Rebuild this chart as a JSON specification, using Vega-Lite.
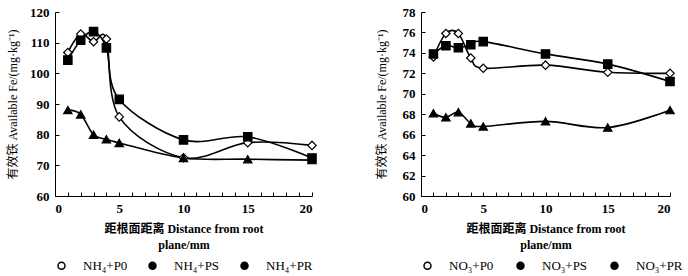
{
  "$schema": "https://vega.github.io/schema/vega-lite/v6.json",
  "padding": {"left": 6, "top": 6, "right": 4, "bottom": 0},
  "background": "white",
  "datasets": {
    "nh4": [
      {"series": "NH₄+P0", "x": 1, "y": 106.8}, {"series": "NH₄+P0", "x": 2, "y": 112.8}, {"series": "NH₄+P0", "x": 3, "y": 110.3}, {"series": "NH₄+P0", "x": 4, "y": 111.2}, {"series": "NH₄+P0", "x": 5, "y": 85.8}, {"series": "NH₄+P0", "x": 10, "y": 72.5}, {"series": "NH₄+P0", "x": 15, "y": 77.4}, {"series": "NH₄+P0", "x": 20, "y": 76.5},
      {"series": "NH₄+PS", "x": 1, "y": 104.3}, {"series": "NH₄+PS", "x": 2, "y": 110.8}, {"series": "NH₄+PS", "x": 3, "y": 113.6}, {"series": "NH₄+PS", "x": 4, "y": 108.3}, {"series": "NH₄+PS", "x": 5, "y": 91.5}, {"series": "NH₄+PS", "x": 10, "y": 78.3}, {"series": "NH₄+PS", "x": 15, "y": 79.3}, {"series": "NH₄+PS", "x": 20, "y": 72.4},
      {"series": "NH₄+PR", "x": 1, "y": 88.0}, {"series": "NH₄+PR", "x": 2, "y": 86.6}, {"series": "NH₄+PR", "x": 3, "y": 80.0}, {"series": "NH₄+PR", "x": 4, "y": 78.5}, {"series": "NH₄+PR", "x": 5, "y": 77.3}, {"series": "NH₄+PR", "x": 10, "y": 72.4}, {"series": "NH₄+PR", "x": 15, "y": 72.0}, {"series": "NH₄+PR", "x": 20, "y": 71.7}
    ],
    "no3": [
      {"series": "NO₃+P0", "x": 1, "y": 73.6}, {"series": "NO₃+P0", "x": 2, "y": 75.9}, {"series": "NO₃+P0", "x": 3, "y": 75.9}, {"series": "NO₃+P0", "x": 4, "y": 73.5}, {"series": "NO₃+P0", "x": 5, "y": 72.5}, {"series": "NO₃+P0", "x": 10, "y": 72.8}, {"series": "NO₃+P0", "x": 15, "y": 72.1}, {"series": "NO₃+P0", "x": 20, "y": 72.0},
      {"series": "NO₃+PS", "x": 1, "y": 73.9}, {"series": "NO₃+PS", "x": 2, "y": 74.7}, {"series": "NO₃+PS", "x": 3, "y": 74.5}, {"series": "NO₃+PS", "x": 4, "y": 74.8}, {"series": "NO₃+PS", "x": 5, "y": 75.1}, {"series": "NO₃+PS", "x": 10, "y": 73.9}, {"series": "NO₃+PS", "x": 15, "y": 72.9}, {"series": "NO₃+PS", "x": 20, "y": 71.2},
      {"series": "NO₃+PR", "x": 1, "y": 68.1}, {"series": "NO₃+PR", "x": 2, "y": 67.7}, {"series": "NO₃+PR", "x": 3, "y": 68.2}, {"series": "NO₃+PR", "x": 4, "y": 67.1}, {"series": "NO₃+PR", "x": 5, "y": 66.8}, {"series": "NO₃+PR", "x": 10, "y": 67.3}, {"series": "NO₃+PR", "x": 15, "y": 66.7}, {"series": "NO₃+PR", "x": 20, "y": 68.4}
    ]
  },
  "config": {
    "view": {"stroke": null},
    "font": "Liberation Serif, Noto Sans CJK SC",
    "axis": {
      "grid": false,
      "domainColor": "black",
      "tickColor": "black",
      "domainWidth": 1,
      "tickWidth": 1,
      "tickSize": -4,
      "labelFont": "Liberation Serif",
      "labelFontSize": 13,
      "labelFontWeight": "bold",
      "labelColor": "black",
      "labelPadding": 10,
      "titleFont": "Liberation Serif, Noto Sans CJK SC",
      "titleColor": "black",
      "titleFontWeight": "normal"
    },
    "legend": {
      "orient": "bottom",
      "direction": "horizontal",
      "title": null,
      "labelFont": "Liberation Serif",
      "labelFontSize": 13,
      "labelColor": "black",
      "symbolSize": 49,
      "symbolStrokeWidth": 1.5,
      "symbolOpacity": 1,
      "labelOffset": 15,
      "columnPadding": 20,
      "offset": 9
    }
  },
  "spacing": 56,
  "resolve": {"scale": {"shape": "independent", "fill": "independent", "y": "independent"}, "legend": {"shape": "independent", "fill": "independent"}},
  "hconcat": [
    {
      "width": 257,
      "height": 184,
      "data": {"name": "nh4"},
      "encoding": {
        "x": {"field": "x", "type": "quantitative", "scale": {"domain": [0, 20], "nice": false},
          "axis": {"values": [0,1,2,3,4,5,6,7,8,9,10,11,12,13,14,15,16,17,18,19,20], "labelExpr": "datum.value % 5 === 0 ? datum.label : ''", "title": ["距根面距离  Distance from root", "plane/mm"], "titleFontSize": 12, "titleFontWeight": "bold", "titlePadding": 8, "titleLineHeight": 16}},
        "y": {"field": "y", "type": "quantitative", "scale": {"domain": [60, 120], "nice": false},
          "axis": {"values": [60, 70, 80, 90, 100, 110, 120], "title": "有效铁  Available Fe/(mg·kg⁻¹)", "titleFontSize": 12, "titlePadding": 10}}
      },
      "layer": [
        {"mark": {"type": "line", "interpolate": "cardinal", "color": "black", "strokeWidth": 1.6}, "encoding": {"detail": {"field": "series"}}},
        {"mark": {"type": "point", "filled": false, "stroke": "black", "strokeWidth": 1.2, "size": 70, "opacity": 1},
          "encoding": {
            "shape": {"field": "series", "type": "nominal", "scale": {"range": ["diamond", "triangle-up", "square"]}, "legend": null},
            "fill": {"field": "series", "type": "nominal", "scale": {"domain": ["NH₄+P0", "NH₄+PS", "NH₄+PR"], "range": ["white", "black", "black"]},
              "legend": {"columnPadding": 18, "encode": {"symbols": {"stroke": {"value": "black"}, "strokeWidth": {"value": 1.5}}}}}
          }}
      ]
    },
    {
      "width": 249,
      "height": 184,
      "data": {"name": "no3"},
      "encoding": {
        "x": {"field": "x", "type": "quantitative", "scale": {"domain": [0, 20], "nice": false},
          "axis": {"values": [0,1,2,3,4,5,6,7,8,9,10,11,12,13,14,15,16,17,18,19,20], "labelExpr": "datum.value % 5 === 0 ? datum.label : ''", "title": ["距根面距离  Distance from root", "plane/mm"], "titleFontSize": 12, "titleFontWeight": "bold", "titlePadding": 8, "titleLineHeight": 16}},
        "y": {"field": "y", "type": "quantitative", "scale": {"domain": [60, 78], "nice": false},
          "axis": {"values": [60, 62, 64, 66, 68, 70, 72, 74, 76, 78], "title": "有效铁  Available Fe/(mg·kg⁻¹)", "titleFontSize": 12, "titlePadding": 14}}
      },
      "layer": [
        {"mark": {"type": "line", "interpolate": "cardinal", "color": "black", "strokeWidth": 1.6}, "encoding": {"detail": {"field": "series"}}},
        {"mark": {"type": "point", "filled": false, "stroke": "black", "strokeWidth": 1.2, "size": 70, "opacity": 1},
          "encoding": {
            "shape": {"field": "series", "type": "nominal", "scale": {"range": ["diamond", "triangle-up", "square"]}, "legend": null},
            "fill": {"field": "series", "type": "nominal", "scale": {"domain": ["NO₃+P0", "NO₃+PS", "NO₃+PR"], "range": ["white", "black", "black"]},
              "legend": {"columnPadding": 20, "encode": {"symbols": {"stroke": {"value": "black"}, "strokeWidth": {"value": 1.5}}}}}
          }}
      ]
    }
  ]
}
